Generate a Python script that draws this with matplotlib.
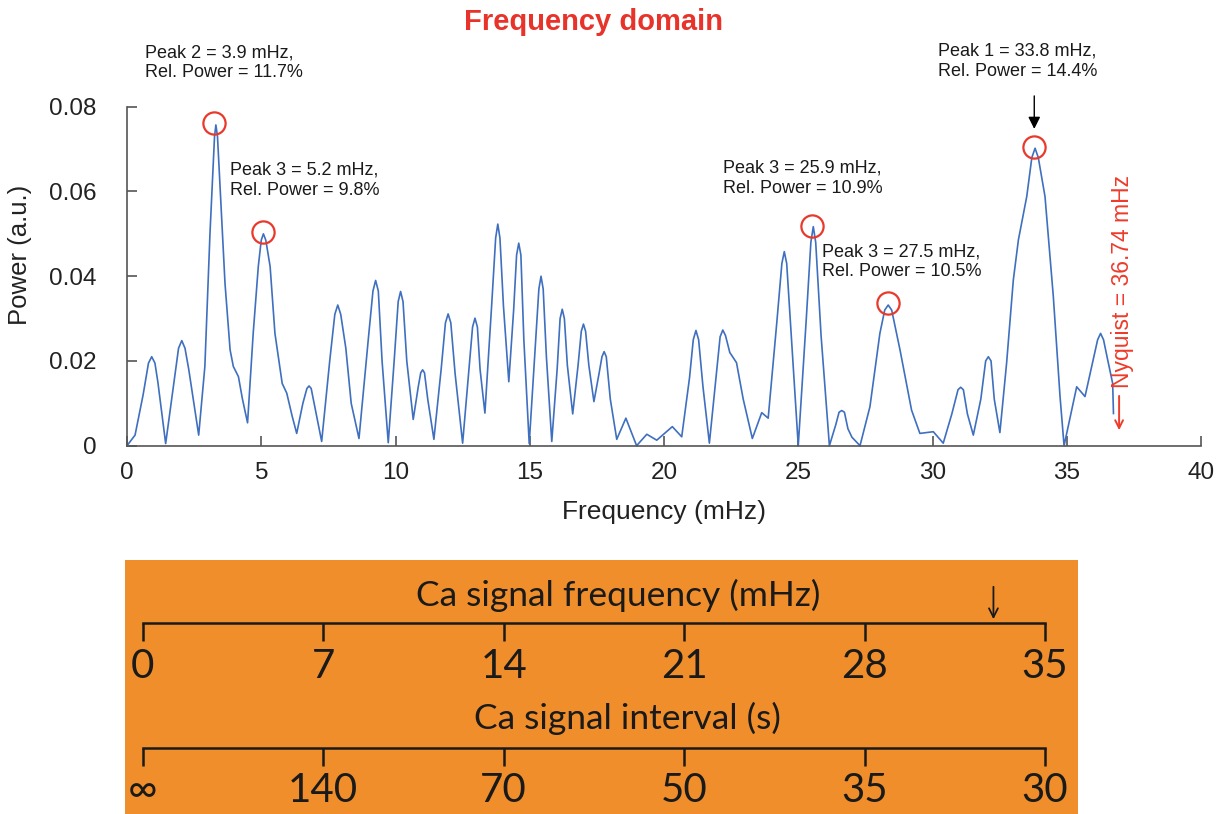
import matplotlib
matplotlib.use("Agg")
import matplotlib.pyplot as plt

plt.rcParams['font.family'] = ['Liberation Sans', 'DejaVu Sans']

# power spectrum (mHz, a.u.)
freq = [0.00, 0.30, 0.60, 0.80, 0.92, 1.04, 1.15, 1.44, 1.75, 1.92, 2.04, 2.16, 2.30, 2.67,
        2.90, 3.09, 3.21, 3.26, 3.31, 3.37, 3.46, 3.65, 3.84, 3.96, 4.15, 4.30, 4.49,
        4.70, 4.89, 5.00, 5.08, 5.17, 5.33, 5.51, 5.78, 5.95, 6.15, 6.32, 6.55, 6.70, 6.78, 6.86,
        7.00, 7.25, 7.55, 7.74, 7.85, 7.96, 8.15, 8.35, 8.64, 9.00, 9.16, 9.26, 9.36, 9.50, 9.73,
        9.95, 10.10, 10.19, 10.28, 10.42, 10.66, 10.85, 10.94, 11.01, 11.08, 11.20, 11.43,
        11.70, 11.86, 11.96, 12.06, 12.22, 12.50, 12.75, 12.87, 12.96, 13.05, 13.15, 13.33,
        13.58, 13.73, 13.81, 13.89, 14.02, 14.22, 14.40, 14.51, 14.59, 14.67, 14.78, 14.98,
        15.20, 15.34, 15.42, 15.50, 15.62, 15.82, 16.02, 16.13, 16.21, 16.29, 16.40, 16.60,
        16.80, 16.92, 17.00, 17.08, 17.20, 17.39, 17.58, 17.69, 17.77, 17.85, 18.00, 18.24,
        18.58, 18.98, 19.36, 19.73, 20.31, 20.66, 20.95, 21.09, 21.19, 21.29, 21.45, 21.69,
        21.95, 22.09, 22.19, 22.29, 22.45, 22.70, 22.95, 23.29, 23.64, 23.88, 24.20, 24.39,
        24.48, 24.57, 24.75, 25.00, 25.30, 25.47, 25.56, 25.65, 25.85, 26.16, 26.40, 26.52,
        26.62, 26.72, 26.85, 27.00, 27.30, 27.67, 28.04, 28.22, 28.35, 28.48, 28.79, 29.22,
        29.53, 30.03, 30.40, 30.72, 30.95, 31.05, 31.15, 31.30, 31.52, 31.80, 31.98, 32.08,
        32.18, 32.30, 32.51, 32.76, 33.01, 33.20, 33.51, 33.70, 33.82, 33.94, 34.19, 34.50,
        34.75, 34.90, 35.37, 35.68, 36.15, 36.26, 36.37, 36.50, 36.71, 36.74]
power = [0.0000, 0.0025, 0.0120, 0.0195, 0.0210, 0.0195, 0.0150, 0.0005, 0.0150, 0.0230, 0.0248, 0.0230, 0.0180, 0.0025,
         0.0187, 0.0500, 0.0659, 0.0730, 0.0757, 0.0730, 0.0620, 0.0383, 0.0226, 0.0187, 0.0163, 0.0110, 0.0054,
         0.0265, 0.0423, 0.0485, 0.0500, 0.0485, 0.0423, 0.0265, 0.0147, 0.0124, 0.0070, 0.0029, 0.0100, 0.0135, 0.0141, 0.0135,
         0.0090, 0.0010, 0.0200, 0.0310, 0.0332, 0.0310, 0.0230, 0.0100, 0.0017, 0.0260, 0.0365, 0.0390, 0.0365, 0.0200, 0.0007,
         0.0200, 0.0340, 0.0364, 0.0340, 0.0200, 0.0062, 0.0140, 0.0172, 0.0179, 0.0172, 0.0110, 0.0015,
         0.0180, 0.0290, 0.0311, 0.0290, 0.0170, 0.0006, 0.0190, 0.0280, 0.0301, 0.0280, 0.0180, 0.0077,
         0.0330, 0.0490, 0.0523, 0.0490, 0.0330, 0.0151, 0.0320, 0.0450, 0.0478, 0.0450, 0.0250, 0.0005,
         0.0230, 0.0370, 0.0400, 0.0370, 0.0210, 0.0010, 0.0180, 0.0300, 0.0322, 0.0300, 0.0190, 0.0075,
         0.0190, 0.0270, 0.0287, 0.0270, 0.0190, 0.0104, 0.0170, 0.0210, 0.0222, 0.0210, 0.0110, 0.0015,
         0.0065, 0.0000, 0.0027, 0.0013, 0.0045, 0.0021, 0.0160, 0.0250, 0.0272, 0.0250, 0.0140, 0.0006,
         0.0170, 0.0257, 0.0273, 0.0260, 0.0220, 0.0196, 0.0110, 0.0017, 0.0078, 0.0065, 0.0290, 0.0430,
         0.0458, 0.0430, 0.0250, 0.0000, 0.0300, 0.0480, 0.0517, 0.0480, 0.0260, 0.0000, 0.0050, 0.0079,
         0.0083, 0.0079, 0.0040, 0.0020, 0.0000, 0.0092, 0.0265, 0.0320, 0.0332, 0.0320, 0.0226, 0.0084,
         0.0029, 0.0033, 0.0006, 0.0075, 0.0132, 0.0138, 0.0132, 0.0075, 0.0025, 0.0110, 0.0200, 0.0210,
         0.0200, 0.0110, 0.0031, 0.0195, 0.0391, 0.0486, 0.0588, 0.0680, 0.0702, 0.0680, 0.0588, 0.0352,
         0.0116, 0.0000, 0.0139, 0.0116, 0.0250, 0.0265, 0.0250, 0.0210, 0.0147, 0.0076]

# circled peaks
peak_freq = [3.25, 5.08, 25.50, 28.33, 33.79]
peak_power = [0.0761, 0.0505, 0.0519, 0.0336, 0.0706]
peak_labels = ["Peak 2 = 3.9 mHz,\nRel. Power = 11.7%",
               "Peak 3 = 5.2 mHz,\nRel. Power = 9.8%",
               "Peak 3 = 25.9 mHz,\nRel. Power = 10.9%",
               "Peak 3 = 27.5 mHz,\nRel. Power = 10.5%",
               "Peak 1 = 33.8 mHz,\nRel. Power = 14.4%"]
label_pos = [(0.67, 0.0904), (3.84, 0.0627), (22.2, 0.0631), (25.88, 0.0434), (30.2, 0.0907)]
nyquist = 36.74

x_ticks = [0, 5, 10, 15, 20, 25, 30, 35, 40]
y_ticks = [0, 0.02, 0.04, 0.06, 0.08]
y_tick_labels = ["0", "0.02", "0.04", "0.06", "0.08"]

# lower scale panel
scale_freq = [0, 7, 14, 21, 28, 35]
scale_freq_labels = ["0", "7", "14", "21", "28", "35"]
scale_interval_labels = ["\u221e", "140", "70", "50", "35", "30"]
scale_arrow_freq = 33.0

W, H = 1217, 814
fig = plt.figure(figsize=(W / 100, H / 100), dpi=100)
fig.patch.set_facecolor('white')

# main spectrum axes
ax = fig.add_axes([127 / W, 1 - 445.7 / H, (1201 - 127) / W, (445.7 - 106.7) / H])
ax.plot(freq, power, color='#3f6fbf', lw=1.2, clip_on=False, solid_joinstyle='round')
ax.plot(peak_freq, peak_power, 'o', ms=16, mfc='none', mec='#e8392b', mew=1.6, clip_on=False)
ax.set_xlim(0, 40)
ax.set_ylim(0, 0.08)
ax.set_xticks(x_ticks)
ax.set_yticks(y_ticks)
ax.set_yticklabels(y_tick_labels)
for s in ['top', 'right']:
    ax.spines[s].set_visible(False)
for s in ['left', 'bottom']:
    ax.spines[s].set_color('#555555')
    ax.spines[s].set_linewidth(1.2)
ax.tick_params(axis='both', direction='in', length=7.5, width=1.2, color='#555555',
               labelsize=17.5, labelcolor='#222222')
ax.tick_params(axis='y', pad=22)
ax.tick_params(axis='x', pad=12)
ax.set_xlabel("Frequency (mHz)", fontsize=19, color='#222222', labelpad=11)
ax.set_ylabel("Power (a.u.)", fontsize=18.5, color='#222222')
ax.yaxis.set_label_coords(-0.088, 0.5625)

for (tx, ty), lab in zip(label_pos, peak_labels):
    ax.text(tx, ty, lab, fontsize=13, color='#1a1a1a', ha='left', va='center',
            linespacing=1.25, clip_on=False)

ax.annotate('', xy=(peak_freq[-1], 0.0741), xytext=(peak_freq[-1], 0.0832),
            arrowprops=dict(arrowstyle='-|>', color='black', lw=1.0, mutation_scale=18),
            annotation_clip=False)

# Nyquist marker
ax.text(nyquist + 0.32, 0.0136, "Nyquist = 36.74 mHz", rotation=90,
        color='#ee3b2b', fontsize=16.5, ha='center', va='bottom', clip_on=False)
ax.annotate('', xy=(nyquist + 0.21, 0.0030), xytext=(nyquist + 0.21, 0.0124),
            arrowprops=dict(arrowstyle='->', color='#ee3b2b', lw=1.4, mutation_scale=14),
            annotation_clip=False)

fig.text(594 / W, 1 - 22 / H, "Frequency domain", color='#e8332a', fontsize=21,
         fontweight='bold', ha='center', va='center')

# orange frequency / interval scale
px0, px35 = 142.7, 1045.0
ppu = (px35 - px0) / 35
pl, pr = 125, 1078
pax = fig.add_axes([pl / W, 0, (pr - pl) / W, (H - 560) / H])
pax.set_facecolor('#f08e2c')
pax.set_xlim(-(px0 - pl) / ppu, 35 + (pr - px35) / ppu)
pax.set_ylim(H, 560)
pax.set_xticks([])
pax.set_yticks([])
for s in pax.spines.values():
    s.set_visible(False)

pfont = ['Lato', 'DejaVu Sans']
pax.plot([scale_freq[0], scale_freq[-1]], [623, 623], color='#1a1a1a', lw=1.8)
pax.vlines(scale_freq, 623, 641, color='#1a1a1a', lw=1.8)
pax.plot([scale_freq[0], scale_freq[-1]], [748, 748], color='#1a1a1a', lw=1.8)
pax.vlines(scale_freq, 748, 766, color='#1a1a1a', lw=1.8)
for f, lab in zip(scale_freq, scale_freq_labels):
    pax.text(f, 667, lab, ha='center', va='center', fontsize=29, family=pfont, color='#1a1a1a')
for f, lab in zip(scale_freq, scale_interval_labels):
    pax.text(f, 791, lab, ha='center', va='center', fontsize=29, family=pfont, color='#1a1a1a')

pax.text((618 - px0) / ppu, 595, "Ca signal frequency (mHz)", ha='center', va='center',
         fontsize=25.5, family=pfont, color='#1a1a1a')
pax.text((627 - px0) / ppu, 718, "Ca signal interval (s)", ha='center', va='center',
         fontsize=25.5, family=pfont, color='#1a1a1a')
pax.annotate('', xy=(scale_arrow_freq, 622), xytext=(scale_arrow_freq, 584),
             arrowprops=dict(arrowstyle='->', color='#1a1a1a', lw=1.3, mutation_scale=16))

fig.savefig("out.png", dpi=100)
